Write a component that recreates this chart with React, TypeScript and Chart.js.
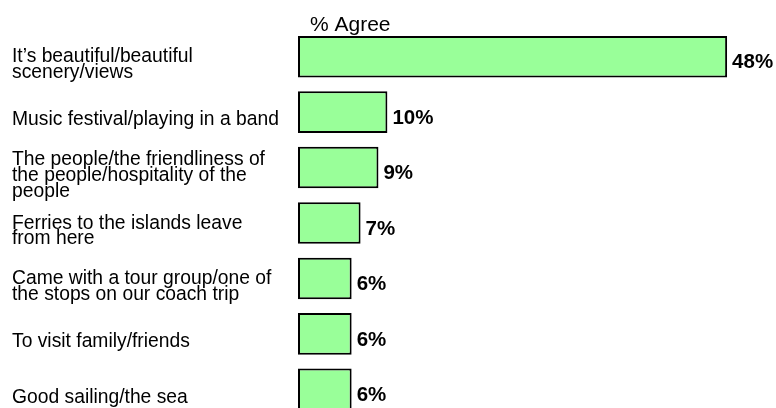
import React, { useEffect, useRef } from "react";
import { Chart, registerables } from "chart.js";

Chart.register(...registerables);

const categories: string[][] = [
  ["It\u2019s beautiful/beautiful", "scenery/views"],
  ["Music festival/playing in a band"],
  ["The people/the friendliness of", "the people/hospitality of the", "people"],
  ["Ferries to the islands leave", "from here"],
  ["Came with a tour group/one of", "the stops on our coach trip"],
  ["To visit family/friends"],
  ["Good sailing/the sea"],
];
const agreeValues: number[] = [48, 10, 9, 7, 6, 6, 6];
const seriesTitle = "% Agree";

const FONT = "'Liberation Sans', Arial, Helvetica, sans-serif";

export default function App() {
  const ref = useRef<HTMLCanvasElement | null>(null);

  useEffect(() => {
    if (!ref.current) return;
    const labelPlugin = {
      id: "valueLabels",
      afterDatasetsDraw(chart: any) {
        const ctx = chart.ctx;
        const meta = chart.getDatasetMeta(0);
        ctx.save();
        ctx.font = `bold 20.5px ${FONT}`;
        ctx.fillStyle = "#000";
        ctx.textAlign = "left";
        ctx.textBaseline = "middle";
        meta.data.forEach((bar: any, i: number) => {
          ctx.fillText(`${agreeValues[i]}%`, bar.x + 5, bar.y + 6);
        });
        ctx.restore();
      },
      afterDraw(chart: any) {
        const ctx = chart.ctx;
        const area = chart.chartArea;
        ctx.save();
        ctx.font = `21px ${FONT}`;
        ctx.fillStyle = "#000";
        ctx.textAlign = "left";
        ctx.textBaseline = "alphabetic";
        ctx.fillText(seriesTitle, area.left + 12, area.top + 2);
        ctx.restore();
      },
    };

    const chart = new Chart(ref.current, {
      type: "bar",
      data: {
        labels: categories,
        datasets: [
          {
            label: seriesTitle,
            data: agreeValues,
            backgroundColor: "#99FF99",
            borderColor: "#000000",
            borderWidth: 2,
            borderSkipped: false,
            barPercentage: 0.75,
            categoryPercentage: 1,
          },
        ],
      },
      options: {
        indexAxis: "y",
        animation: false,
        responsive: true,
        maintainAspectRatio: false,
        layout: { padding: { left: 12, right: 31, top: 29, bottom: 1 } },
        plugins: {
          legend: { display: false },
          tooltip: { enabled: false },
          title: { display: false },
        },
        scales: {
          x: {
            display: false,
            min: 0,
            max: 50,
          },
          y: {
            grid: { display: false },
            border: { display: false },
            ticks: {
              crossAlign: "far",
              color: "#000",
              labelOffset: 8,
              padding: 0,
              font: { family: FONT, size: 19.3, lineHeight: 0.81 },
            },
            afterFit(scale: any) {
              scale.width = 286;
              scale.paddingTop = 0;
              scale.paddingBottom = 0;
            },
          },
        },
      },
      plugins: [labelPlugin],
    } as any);
    return () => chart.destroy();
  }, []);

  return (
    <div
      style={{
        position: "fixed",
        left: 0,
        top: 0,
        width: 776,
        height: 408,
        overflow: "hidden",
        background: "#fff",
      }}
    >
      <div style={{ position: "relative", width: 776, height: 418 }}>
        <canvas ref={ref} />
      </div>
    </div>
  );
}
